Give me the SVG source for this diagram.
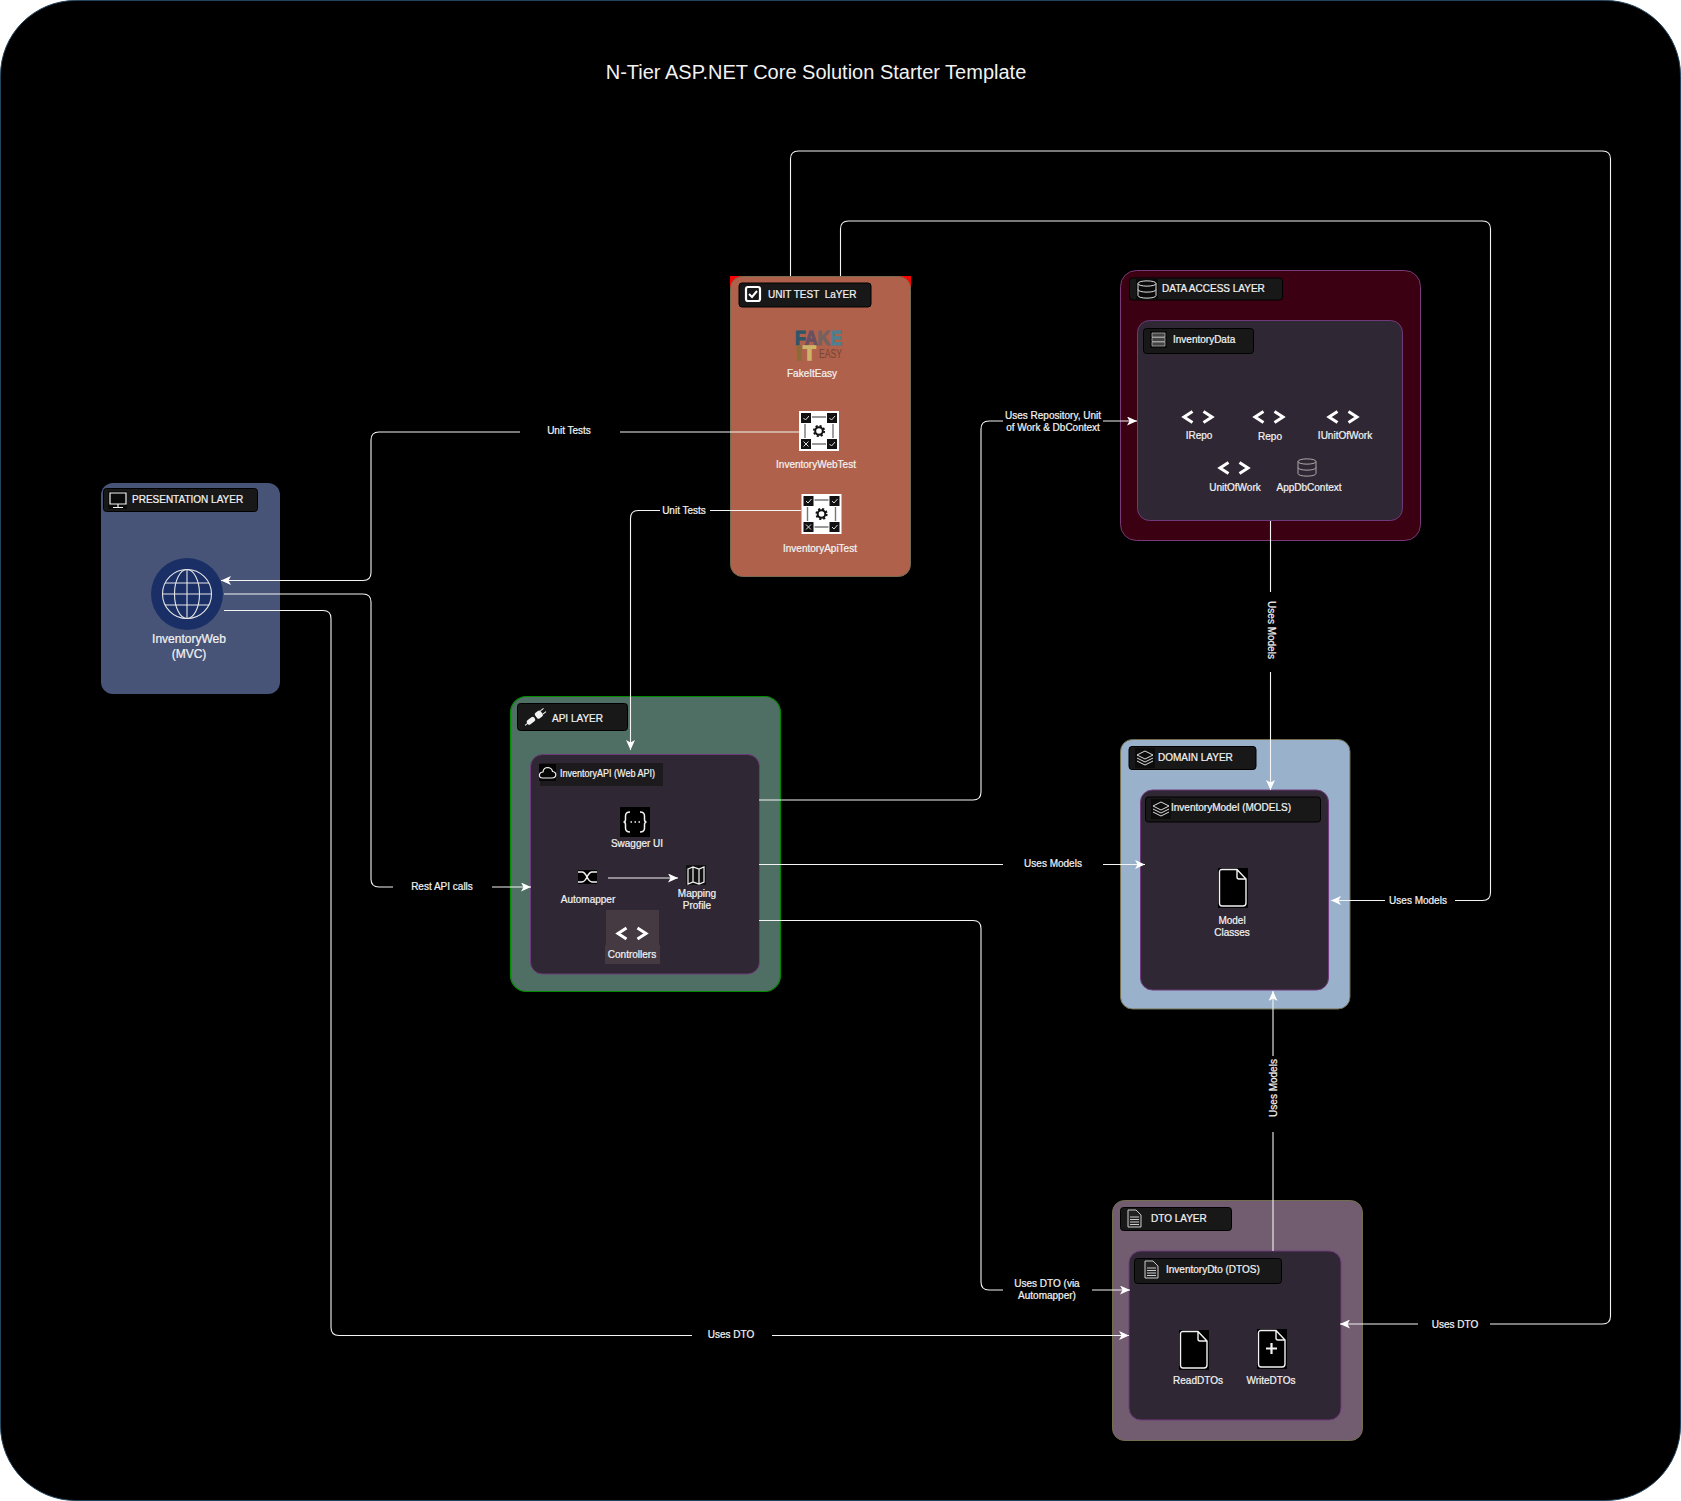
<svg xmlns="http://www.w3.org/2000/svg" width="1681" height="1501" viewBox="0 0 1681 1501">
<style>
text{font-family:"Liberation Sans",Arial,sans-serif;fill:#f2f2f2;font-size:10px;stroke:#f2f2f2;stroke-width:.22px}
.c{text-anchor:middle}
.b{font-size:12px}
.bar{fill:#181818;stroke:#000;stroke-width:1}
.inner{fill:#2f2733;stroke:#6f3a7c;stroke-width:1}
.conn{fill:none;stroke:#f4f4f4;stroke-width:1.1;stroke-linejoin:round}
.gap{fill:#000}
.ic{fill:none;stroke:#f2f2f2;stroke-width:1.2}
.code{fill:none;stroke:#fff;stroke-width:3}
</style>
<defs>
<marker id="arr" markerUnits="userSpaceOnUse" markerWidth="11" markerHeight="9" refX="10" refY="4.500" orient="auto"><path d="M10 4.500 L0 0 L2.500 4.500 L0 9 Z" fill="#fff"/></marker>
<g id="code"><path class="code" d="M-5.500 -5.500 L-14 0 L-5.500 5.500 M5.500 -5.500 L14 0 L5.500 5.500"/></g>
<g id="test">
<rect width="40" height="40" fill="#fff"/>
<path d="M13 6H27M13 33H27M6 13V27M34 13V27" stroke="#777" stroke-width="1.400" fill="none"/>
<rect x="2" y="2" width="10" height="10" fill="#111"/><rect x="28" y="2" width="10" height="10" fill="#111"/><rect x="2" y="28" width="10" height="10" fill="#111"/><rect x="28" y="28" width="10" height="10" fill="#111"/>
<path d="M4.500 7l2 2l3.500-4M30.500 7l2 2l3.500-4M30.500 33l2 2l3.500-4M4.500 30.500l5 5M9.500 30.500l-5 5" stroke="#ddd" stroke-width="1" fill="none"/>
<circle cx="20" cy="20" r="3.800" fill="none" stroke="#111" stroke-width="2"/>
<circle cx="20" cy="20" r="5.200" fill="none" stroke="#111" stroke-width="1.800" stroke-dasharray="2.100 1.980"/>
</g>
<g id="file"><rect width="30" height="40" fill="#000"/><path d="M4 1.500H19L28 11V35Q28 38 25 38H4Q1.500 38 1.500 35V4Q1.500 1.500 4 1.500ZM19 1.500V9Q19 11 21 11H28" fill="#000" stroke="#f2f2f2" stroke-width="1.400"/></g>
<g id="doc"><path d="M2 1H10L15 6V18H2Z" fill="#222" stroke="#ccc" stroke-width="1"/><path d="M4 8H13M4 10.500H13M4 13H13M4 15.500H13" stroke="#ccc" stroke-width="1.100"/></g>
<g id="layers"><rect width="20" height="20" fill="#0c0c0c"/><path d="M10 3L18 7L10 11L2 7ZM2 10L10 14L18 10M2 13L10 17L18 13" fill="none" stroke="#ddd" stroke-width="1"/></g>
<g id="db"><path d="M0 3.500V15.500C0 19 18 19 18 15.500V3.500M0 3.500C0 0 18 0 18 3.500C18 7 0 7 0 3.500ZM0 9.500C0 13 18 13 18 9.500" fill="none" stroke-width="1"/></g>
</defs>

<rect width="1681" height="1501" fill="#fff"/>
<rect x="0.500" y="0.500" width="1680" height="1500" rx="75" fill="#000" stroke="#23445d"/>
<text class="c" x="816" y="79" style="font-size:20px;stroke-width:0">N-Tier ASP.NET Core Solution Starter Template</text>

<g id="presentation-layer">
<rect x="101" y="483" width="179" height="211" rx="12" fill="#475478"/>
<rect class="bar" x="103.500" y="488.500" width="154" height="23" rx="3"/>
<rect x="108" y="491" width="19" height="18" fill="#0a0a0a"/>
<path class="ic" d="M110 493H126V504H110ZM118 504V507M113 507.500H123"/>
<text x="132" y="503">PRESENTATION LAYER</text>
<circle cx="187" cy="594" r="36" fill="#1a2f66"/>
<g fill="none" stroke="#e6e6e6" stroke-width="1.100"><circle cx="187" cy="594" r="24.500"/><ellipse cx="187" cy="594" rx="12.500" ry="24.500"/><path d="M187 569.500V618.500M162.500 594H211.500M165 583H209M165 605H209"/></g>
<text class="c b" x="189" y="643">InventoryWeb</text>
<text class="c b" x="189" y="658">(MVC)</text>
</g>

<g id="unit-test-layer">
<rect x="730" y="276" width="181" height="12" fill="#f00"/>
<rect x="730.500" y="276.500" width="180" height="300" rx="12" fill="#b0614b" stroke="#7a6a4f"/>
<rect class="bar" x="739" y="283" width="132" height="24" rx="3"/>
<rect x="746" y="287" width="14" height="14" rx="2" fill="none" stroke="#fff" stroke-width="2.200"/>
<path d="M749 294l3 3l5-6" fill="none" stroke="#fff" stroke-width="2"/>
<text x="768" y="298" xml:space="preserve">UNIT TEST  LaYER</text>
<g id="fakeiteasy-logo">
<text x="795" y="345" textLength="47" lengthAdjust="spacingAndGlyphs" style="font-size:21px;font-weight:bold;fill:#2f5668;stroke:#2f5668;stroke-width:1.200px">F<tspan style="fill:#6a4f62;stroke:#6a4f62">A</tspan><tspan style="fill:#74625f;stroke:#74625f">K</tspan><tspan style="fill:#4f7f90;stroke:#4f7f90">E</tspan></text>
<text x="796 803" y="360" style="font-size:21px;font-weight:bold;fill:#8d6b38;stroke:#8d6b38;stroke-width:1.400px">I<tspan style="fill:#cdb368;stroke:#cdb368">T</tspan></text>
<text x="819" y="358" textLength="23" lengthAdjust="spacingAndGlyphs" style="font-size:13px;fill:#7a4638;stroke:#7a4638;stroke-width:.1px">EASY</text>
</g>
<text class="c" x="812" y="377">FakeItEasy</text>
<use href="#test" x="799" y="411"/>
<text class="c" x="816" y="468">InventoryWebTest</text>
<use href="#test" x="801.500" y="494"/>
<text class="c" x="820" y="552">InventoryApiTest</text>
</g>

<g id="api-layer">
<rect x="510.500" y="696.500" width="270" height="295" rx="16" fill="#4f6f64" stroke="#008a00" stroke-width="1.200"/>
<rect class="bar" x="517.500" y="703.500" width="110" height="27" rx="3"/>
<g fill="#f2f2f2" transform="rotate(-38 535 717)"><rect x="525" y="715" width="9" height="5" rx="2"/><rect x="536" y="714" width="7" height="7" rx="2"/><path d="M543 715.500h4M543 719.500h4M526 717.500h-4" stroke="#f2f2f2"/></g>
<text x="552" y="722">API LAYER</text>
<rect class="inner" x="530.500" y="754.500" width="229" height="219.500" rx="12"/>
<rect x="540" y="763" width="123" height="23" fill="#1d1a1e"/>
<rect x="539" y="764" width="17" height="17" fill="#050505"/>
<path class="ic" d="M542.500 778Q539 778 539.500 774.500Q540 772 543 772Q543.500 767.500 548 767.500Q552 768 552.500 771.500Q556 772 555.800 775Q555.500 778 552 778Z"/>
<text x="560" y="777" textLength="95" lengthAdjust="spacingAndGlyphs">InventoryAPI (Web API)</text>
<g id="swagger-ui">
<rect x="620" y="807" width="30" height="30" fill="#000"/>
<path d="M630 812Q625.500 812 625.500 816V819.500Q625.500 822 623.500 822Q625.500 822 625.500 824.500V828Q625.500 832 630 832M640 812Q644.500 812 644.500 816V819.500Q644.500 822 646.500 822Q644.500 822 644.500 824.500V828Q644.500 832 640 832" fill="none" stroke="#f2f2f2" stroke-width="1.500"/>
<path d="M630.500 822H640" stroke="#f2f2f2" stroke-width="1.500" stroke-dasharray="1.500 2.500" fill="none"/>
<text class="c" x="637" y="847">Swagger UI</text>
</g>
<g id="automapper">
<rect x="578" y="870" width="19" height="14" fill="#000"/>
<path d="M578 872h4c5 0 5 10 10 10h5M578 882h4c5 0 5-10 10-10h5" fill="none" stroke="#f2f2f2" stroke-width="1.500"/>
<text class="c" x="588" y="903">Automapper</text>
</g>
<g id="mapping-profile">
<rect x="686" y="865" width="20" height="20" fill="#111"/>
<path class="ic" d="M688 869l5-2l6 2l5-2v15l-5 2l-6-2l-5 2zM693 867v15M699 869v15"/>
<text class="c" x="697" y="897">Mapping</text>
<text class="c" x="697" y="909">Profile</text>
</g>
<g id="controllers">
<rect x="606" y="910" width="53" height="35" fill="#453a42"/>
<rect x="605" y="945" width="55" height="19" fill="#453a42"/>
<use href="#code" x="632" y="933.500"/>
<text class="c" x="632" y="958">Controllers</text>
</g>
</g>

<g id="data-access-layer">
<rect x="1120.500" y="270.500" width="300" height="270" rx="16" fill="#3b0011" stroke="#7a3a78"/>
<rect class="bar" x="1129.500" y="278" width="153" height="22" rx="3"/>
<rect x="1136" y="279" width="22" height="20" fill="#0a0a0a"/>
<use href="#db" x="1138" y="280" stroke="#ddd"/>
<text x="1162" y="292">DATA ACCESS LAYER</text>
<rect class="inner" x="1137.500" y="320.500" width="265" height="200" rx="12"/>
<rect class="bar" x="1143.500" y="328.500" width="110" height="25" rx="3"/>
<rect x="1150" y="331" width="17" height="17" fill="#0a0a0a"/>
<path d="M1152 333h13v4h-13zM1152 337.500h13v4h-13zM1152 342h13v4h-13z" fill="#444" stroke="#bbb" stroke-width=".7"/>
<text x="1173" y="343">InventoryData</text>
<g id="irepo"><use href="#code" x="1198" y="417"/><text class="c" x="1199" y="439">IRepo</text></g>
<g id="repo"><use href="#code" x="1269" y="417"/><text class="c" x="1270" y="440">Repo</text></g>
<g id="iunitofwork"><use href="#code" x="1343" y="417"/><text class="c" x="1345" y="439">IUnitOfWork</text></g>
<g id="unitofwork"><use href="#code" x="1234" y="468"/><text class="c" x="1235" y="491">UnitOfWork</text></g>
<g id="appdbcontext"><use href="#db" x="1298" y="458" stroke="#aaa"/><text class="c" x="1309" y="491">AppDbContext</text></g>
</g>

<g id="domain-layer">
<rect x="1120.500" y="739.500" width="229.500" height="269.500" rx="12" fill="#9ab1cc" stroke="#736f4e"/>
<rect class="bar" x="1129" y="746.500" width="127" height="23" rx="3"/>
<use href="#layers" x="1135" y="748"/>
<text x="1158" y="761">DOMAIN LAYER</text>
<rect class="inner" x="1140.500" y="790" width="188" height="200" rx="12"/>
<rect class="bar" x="1145.500" y="797" width="175" height="25" rx="3"/>
<use href="#layers" x="1151" y="799"/>
<text x="1171" y="811">InventoryModel (MODELS)</text>
<g id="model-classes"><use href="#file" x="1218" y="868"/><text class="c" x="1232" y="924">Model</text><text class="c" x="1232" y="936">Classes</text></g>
</g>

<g id="dto-layer">
<rect x="1112.500" y="1200.500" width="250" height="240" rx="12" fill="#725c70" stroke="#736f4e"/>
<rect class="bar" x="1120.500" y="1207.500" width="111" height="23" rx="3"/>
<use href="#doc" x="1126" y="1209"/>
<text x="1151" y="1222">DTO LAYER</text>
<rect class="inner" x="1129" y="1251" width="212" height="169" rx="12"/>
<rect class="bar" x="1134.500" y="1258.500" width="147" height="25" rx="3"/>
<use href="#doc" x="1143" y="1260"/>
<text x="1166" y="1273">InventoryDto (DTOS)</text>
<g id="read-dtos"><use href="#file" x="1179" y="1330"/><text class="c" x="1198" y="1384">ReadDTOs</text></g>
<g id="write-dtos"><use href="#file" x="1257" y="1329"/><path d="M1271.500 1343v11M1266 1348.500h11" stroke="#f2f2f2" stroke-width="2.200"/><text class="c" x="1271" y="1384">WriteDTOs</text></g>
</g>

<g id="connectors">
<path class="conn" marker-end="url(#arr)" d="M799 432H379Q371 432 371 440V572.500Q371 580.500 363 580.500H221"/>
<rect class="gap" x="520" y="425" width="100" height="14"/><text class="c" x="569" y="434">Unit Tests</text>
<path class="conn" marker-end="url(#arr)" d="M801 510.500H638Q630.500 510.500 630.500 518.500V750"/>
<rect class="gap" x="660" y="503" width="50" height="14"/><text class="c" x="684" y="514">Unit Tests</text>
<path class="conn" marker-end="url(#arr)" d="M224 594H363Q371 594 371 602V879Q371 887 379 887H531"/>
<rect class="gap" x="393" y="880" width="99" height="14"/><text class="c" x="442" y="890">Rest API calls</text>
<path class="conn" marker-end="url(#arr)" d="M224 610.500H323Q331 610.500 331 618.500V1327.500Q331 1335.500 339 1335.500H1129"/>
<rect class="gap" x="692" y="1328" width="80" height="14"/><text class="c" x="731" y="1338">Uses DTO</text>
<path class="conn" marker-end="url(#arr)" d="M759 800H973Q981 800 981 792V429Q981 421 989 421H1137"/>
<rect class="gap" x="1003" y="408" width="100" height="26"/><text class="c" x="1053" y="419">Uses Repository, Unit</text><text class="c" x="1053" y="431">of Work &amp; DbContext</text>
<path class="conn" marker-end="url(#arr)" d="M759 864.500H1145"/>
<rect class="gap" x="1003" y="857" width="100" height="14"/><text class="c" x="1053" y="867">Uses Models</text>
<path class="conn" marker-end="url(#arr)" d="M759 920.500H973Q981 920.500 981 928.500V1282Q981 1290 989 1290H1130"/>
<rect class="gap" x="1003" y="1278" width="89" height="26"/><text class="c" x="1047" y="1287">Uses DTO (via</text><text class="c" x="1047" y="1299">Automapper)</text>
<path class="conn" marker-end="url(#arr)" d="M1270.500 521V790"/>
<rect class="gap" x="1264" y="592" width="14" height="80"/><text class="c" transform="translate(1267.500 630) rotate(90)">Uses Models</text>
<path class="conn" marker-end="url(#arr)" d="M1273 1251V991"/>
<rect class="gap" x="1266" y="1056" width="14" height="76"/><text class="c" transform="translate(1277 1088) rotate(-90)">Uses Models</text>
<path class="conn" marker-end="url(#arr)" d="M840.500 276V229Q840.500 221 848.500 221H1482.500Q1490.500 221 1490.500 229V892.500Q1490.500 900.500 1482.500 900.500H1331"/>
<rect class="gap" x="1385" y="893" width="70" height="14"/><text class="c" x="1418" y="904">Uses Models</text>
<path class="conn" marker-end="url(#arr)" d="M790.500 276V159Q790.500 151 798.500 151H1602.500Q1610.500 151 1610.500 159V1316Q1610.500 1324 1602.500 1324H1340"/>
<rect class="gap" x="1418" y="1317" width="72" height="14"/><text class="c" x="1455" y="1328">Uses DTO</text>
<path class="conn" marker-end="url(#arr)" d="M608 878H678"/>
</g>
</svg>
